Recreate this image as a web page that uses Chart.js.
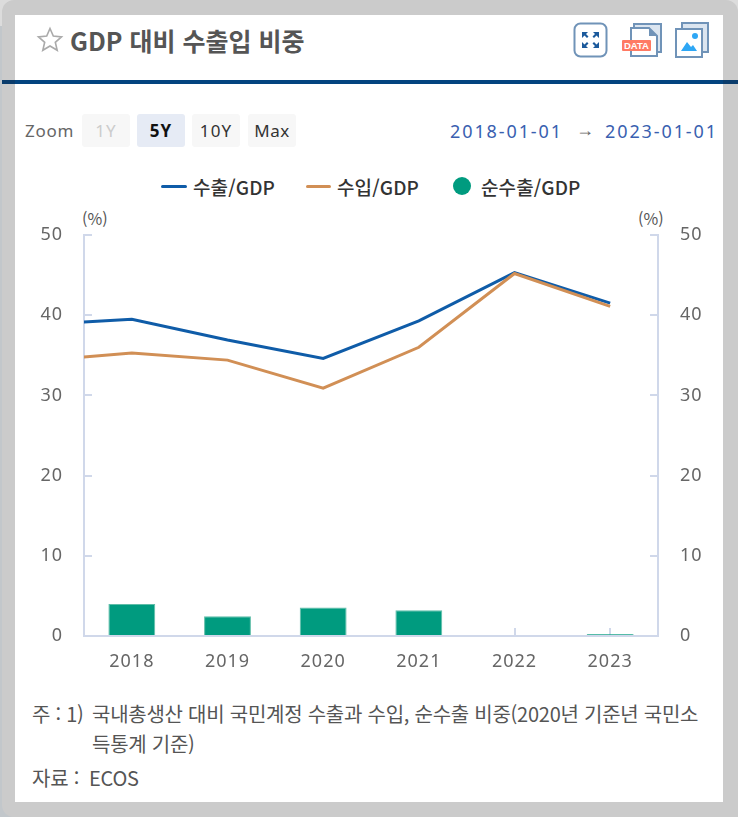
<!DOCTYPE html>
<html lang="ko">
<head>
<meta charset="utf-8">
<script src="https://cdn.jsdelivr.net/npm/chart.js@4"></script>
<style>
html,body{margin:0;padding:0;width:738px;height:817px;overflow:hidden;font-family:"Noto Sans CJK KR","Noto Sans",sans-serif}
body{background:linear-gradient(#dcdcdc 0,#dcdcdc 26px,#c2c7cb 26px)}
#frame{position:absolute;left:2px;top:0;width:736px;height:817px;background:#cbcbcb;border-radius:12px 12px 0 12px}
#card{position:absolute;left:15px;top:15px;width:708px;height:787px;background:#fff}
.t{position:absolute;white-space:nowrap;line-height:1}
#rule{position:absolute;left:2px;top:80px;width:736px;height:4px;background:linear-gradient(90deg,#0a3c6c 0,#0a3c6c 13px,#03447f 13px,#03447f 721px,#0a3c6c 721px)}
.btn{position:absolute;top:114px;width:48px;height:33px;border-radius:3px;background:#f7f7f7;text-align:center;line-height:33px;font-size:17px;color:#333;letter-spacing:1.1px;font-family:"Noto Sans",sans-serif}
#wrap{position:absolute;left:15px;top:200px;width:708px;height:480px}
svg{position:absolute;overflow:visible}
.date{font-size:18px;color:#3a5fb0;letter-spacing:1.9px;font-family:'Noto Sans',sans-serif;top:122px}
.lg{font-size:19px;font-weight:500;color:#333;top:177px;letter-spacing:.1px}
.note{font-size:20px;color:#555;letter-spacing:-.25px}
</style>
</head>
<body>
<div id="frame"></div>
<div id="card"></div>
<div id="rule"></div>

<svg style="left:37px;top:27px" width="26" height="25" viewBox="0 0 26 25"><path d="M13 1.500l3.300 7.600 8.200.8-6.200 5.400 1.900 8-7.200-4.300-7.200 4.300 1.900-8L1.500 9.900l8.200-.8z" fill="#fff" stroke="#aaa" stroke-width="1.600"/></svg>
<div class="t" style="left:70px;top:28px;font-size:25px;font-weight:700;color:#555">GDP 대비 수출입 비중</div>

<svg style="left:573px;top:22px" width="36" height="36" viewBox="0 0 36 36">
<rect x="1.500" y="1.500" width="32" height="33" rx="6" fill="#fff" stroke="#7093b8" stroke-width="2"/>
<g fill="#1c5a9c"><path d="M9 10h6l-2 2 2.500 2.500-1.500 1.500L11.500 13.500 9 16z"/><path d="M26 10h-6l2 2-2.500 2.500 1.500 1.500 2.500-2.500 2.500 2.500z"/><path d="M9 26h6l-2-2 2.500-2.500-1.500-1.500-2.500 2.500L9 20z"/><path d="M26 26h-6l2-2-2.500-2.500 1.500-1.500 2.500 2.500 2.500-2.500z"/></g></svg>

<svg style="left:622px;top:22px" width="42" height="36" viewBox="0 0 42 36">
<rect x="12" y="2" width="27" height="28" fill="#dbe5f0" stroke="#7093b8" stroke-width="2"/>
<path d="M9 6h18l8 8v20H9z" fill="#fff" stroke="#7093b8" stroke-width="2"/>
<path d="M27 6l8 8h-8z" fill="#7093b8"/>
<rect x="0" y="18" width="29" height="11" rx="1" fill="#ff7a63"/>
<text x="14.500" y="27" text-anchor="middle" font-size="9.500" font-weight="700" fill="#fff" font-family="Liberation Sans">DATA</text></svg>

<svg style="left:674px;top:21px" width="36" height="37" viewBox="0 0 36 37">
<rect x="8" y="2" width="26" height="29" fill="#dbe5f0" stroke="#7093b8" stroke-width="2"/>
<rect x="2" y="8" width="26" height="28" fill="#fff" stroke="#7093b8" stroke-width="2"/>
<circle cx="21" cy="15" r="3" fill="#2ea7f5"/>
<path d="M7 30l6-9 4 5 2-2 4 6z" fill="#2ea7f5"/></svg>

<div class="t" style="left:25px;top:122px;font-size:17px;color:#666;letter-spacing:.7px;font-family:'Noto Sans',sans-serif">Zoom</div>
<div class="btn" style="left:82px;color:#ccc">1Y</div>
<div class="btn" style="left:137px;background:#e6ebf5;color:#111;font-weight:700">5Y</div>
<div class="btn" style="left:192px">10Y</div>
<div class="btn" style="left:248px;letter-spacing:.6px">Max</div>
<div class="t date" style="left:450px">2018-01-01</div>
<div class="t" style="left:576px;top:120px;font-size:18px;color:#666;font-family:'Noto Sans',sans-serif">→</div>
<div class="t date" style="left:605px">2023-01-01</div>

<div style="position:absolute;left:161px;top:185px;width:26px;height:3px;background:#0f5ca8;border-radius:2px"></div>
<div class="t lg" id="lg0" style="left:193px"></div>
<div style="position:absolute;left:306px;top:185px;width:25px;height:3px;background:#d18f55;border-radius:2px"></div>
<div class="t lg" id="lg1" style="left:337px"></div>
<div style="position:absolute;left:453px;top:177px;width:18px;height:18px;background:#009b7f;border-radius:50%"></div>
<div class="t lg" id="lg2" style="left:481px"></div>

<div class="t" style="left:82px;top:210px;font-size:16px;color:#555">(%)</div>
<div class="t" style="left:638px;top:210px;font-size:16px;color:#555">(%)</div>

<div id="wrap"><canvas id="c" width="708" height="480"></canvas></div>

<div class="t note" style="left:32px;top:704px">주 : 1)</div>
<div class="t note" style="left:92px;top:704px">국내총생산 대비 국민계정 수출과 수입, 순수출 비중(2020년 기준년 국민소</div>
<div class="t note" style="left:92px;top:734px">득통계 기준)</div>
<div class="t note" style="left:32px;top:768px">자료 :</div>
<div class="t note" style="left:89px;top:768px">ECOS</div>

<script>
const years = [2017, 2018, 2019, 2020, 2021, 2022, 2023];
const tickYears = [2018, 2019, 2020, 2021, 2022, 2023];
const exportsGdp = [38.8, 39.5, 36.9, 34.6, 39.3, 45.3, 41.5];
const importsGdp = [34.3, 35.3, 34.4, 30.9, 36.0, 45.2, 41.1];
const barYears = [2018, 2019, 2020, 2021, 2022, 2023];
const netExportsGdp = [4.0, 2.45, 3.55, 3.2, 0, 0.25];
const yTicks = [0, 10, 20, 30, 40, 50];
const seriesNames = ['수출/GDP', '수입/GDP', '순수출/GDP'];

seriesNames.forEach((n, i) => { document.getElementById('lg' + i).textContent = n; });

const zip = (xs, ys) => xs.map((x, i) => ({ x, y: ys[i] }));
const axisColor = '#d0d8ea';
const tickFont = { family: '"Noto Sans","Noto Sans CJK KR",sans-serif', size: 18 };
const setYTicks = s => { s.ticks = yTicks.map(value => ({ value })); };
const fitY = width => s => { s.width = width; s.paddingTop = 0; s.paddingBottom = 0; };

Chart.register({
  id: 'spacing',
  beforeDraw(chart) { chart.ctx.letterSpacing = '1px'; }
});

new Chart(document.getElementById('c'), {
  type: 'bar',
  data: {
    datasets: [
      { type: 'line', label: seriesNames[1], data: zip(years, importsGdp), borderColor: '#d18f55', borderWidth: 3, pointRadius: 0, tension: 0, order: 1, borderJoinStyle: 'miter' },
      { type: 'line', label: seriesNames[0], data: zip(years, exportsGdp), borderColor: '#0f5ca8', borderWidth: 3, pointRadius: 0, tension: 0, order: 2, borderJoinStyle: 'miter' },
      { type: 'bar', label: seriesNames[2], data: zip(barYears, netExportsGdp), backgroundColor: '#009b7f', borderColor: '#5fbda8', borderWidth: { top: 1, left: 1, right: 1, bottom: 0 }, barPercentage: 0.49, categoryPercentage: 1, order: 3 }
    ]
  },
  options: {
    responsive: false,
    animation: false,
    events: [],
    layout: { padding: { top: 35, left: 0, right: 0, bottom: 0 } },
    plugins: { legend: { display: false }, tooltip: { enabled: false } },
    scales: {
      x: {
        type: 'linear', min: 2017.5, max: 2023.5, offset: false,
        afterBuildTicks: s => { s.ticks = tickYears.map(value => ({ value })); },
        afterFit: s => { s.height = 44; s.paddingLeft = 0; s.paddingRight = 0; },
        ticks: { font: tickFont, color: '#666', padding: 23, maxRotation: 0, autoSkip: false, callback: v => String(v) },
        grid: { offset: false, drawOnChartArea: false, tickLength: -8, color: axisColor, lineWidth: 2 },
        border: { color: axisColor, width: 2 }
      },
      y: {
        position: 'left', min: 0, max: 50,
        afterBuildTicks: setYTicks,
        afterFit: fitY(69),
        ticks: { font: tickFont, color: '#666', padding: 29 },
        grid: { drawOnChartArea: false, tickLength: -8, color: axisColor, lineWidth: 2 },
        border: { color: axisColor, width: 2 }
      },
      y2: {
        position: 'right', min: 0, max: 50,
        afterBuildTicks: setYTicks,
        afterFit: fitY(65),
        ticks: { font: tickFont, color: '#666', padding: 30 },
        grid: { drawOnChartArea: false, tickLength: -8, color: axisColor, lineWidth: 2 },
        border: { color: axisColor, width: 2 }
      }
    }
  }
});
</script>
</body>
</html>
